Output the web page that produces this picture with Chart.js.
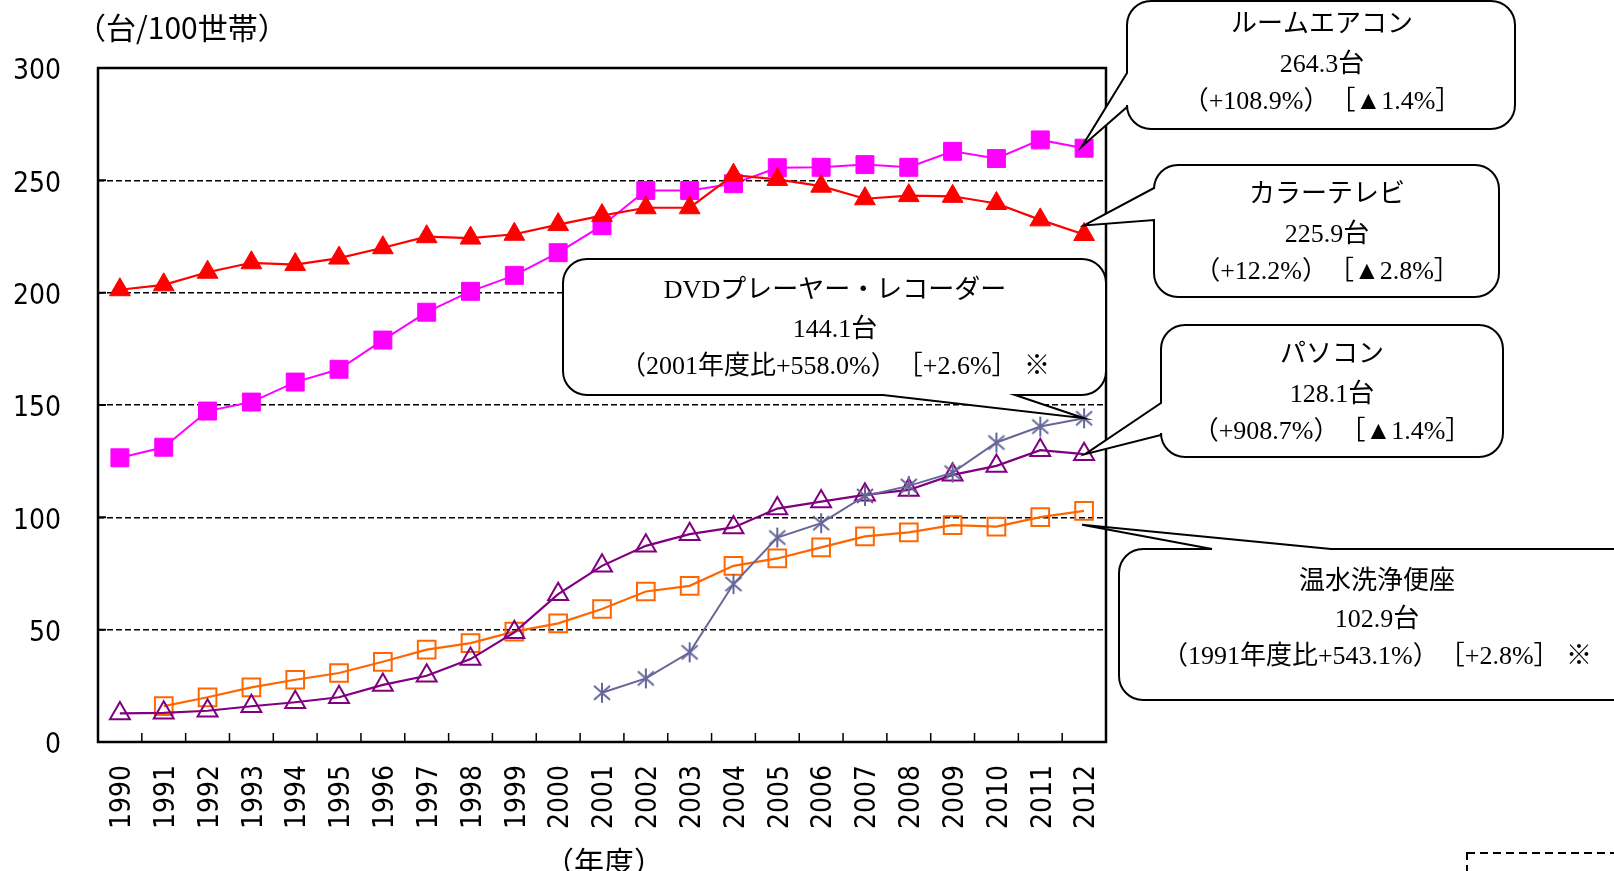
<!DOCTYPE html>
<html><head><meta charset="utf-8">
<script src="https://cdn.jsdelivr.net/npm/chart.js@4.4.0/dist/chart.umd.min.js"></script>
<style>html,body{margin:0;padding:0;background:#fff;overflow:hidden}#wrap{width:1614px;height:871px;position:relative}</style>
</head><body><div id="wrap"><canvas id="c" width="1614" height="871"></canvas></div>
<script>
const years = ['1990','1991','1992','1993','1994','1995','1996','1997','1998','1999','2000','2001','2002','2003','2004','2005','2006','2007','2008','2009','2010','2011','2012'];
const yTicks = [0, 50, 100, 150, 200, 250, 300];
const roomAircon = [126.5,131.2,147.3,151.3,160.2,165.9,178.9,191.3,200.6,207.7,217.8,229.8,245.5,245.5,248.5,255.6,255.8,257.0,255.8,262.9,259.7,268.0,264.3];
const colorTV = [201.3,203.5,209.1,213.3,212.5,215.4,220.0,224.9,224.3,226.0,230.3,234.3,237.8,237.8,252.3,250.4,247.4,241.8,243.2,242.9,239.7,232.4,225.9];
const personalComputer = [12.7,13.0,13.9,15.9,17.7,19.9,25.4,29.5,36.9,48.8,65.8,78.4,87.3,92.5,95.5,103.9,107.0,110.0,112.2,118.9,122.9,129.9,128.1];
const toiletSeat = [null,16.0,19.9,24.3,27.7,30.7,35.7,41.1,44.0,49.1,52.8,59.2,67.0,69.5,78.4,81.7,86.6,91.5,93.3,96.5,95.9,100.1,102.9];
const dvdRecorder = [null,null,null,null,null,null,null,null,null,null,null,21.9,28.3,39.9,70.3,91.0,97.4,109.5,114.0,119.9,133.3,140.4,144.1];

const yAxisTitle = '（台/100世帯）';
const xAxisTitle = '（年度）';

const calloutTexts = {
  aircon: ['ルームエアコン', '264.3台', '（+108.9%）　［▲1.4%］'],
  tv: ['カラーテレビ', '225.9台', '（+12.2%）　［▲2.8%］'],
  dvd: ['DVDプレーヤー・レコーダー', '144.1台', '（2001年度比+558.0%）　［+2.6%］ ※'],
  pc: ['パソコン', '128.1台', '（+908.7%）　［▲1.4%］'],
  toilet: ['温水洗浄便座', '102.9台', '（1991年度比+543.1%）　［+2.8%］ ※']
};

function makeAsterisk(color) {
  const c = document.createElement('canvas');
  c.width = 22; c.height = 22;
  const g = c.getContext('2d');
  g.strokeStyle = color; g.lineWidth = 2;
  g.beginPath();
  g.moveTo(11, 1); g.lineTo(11, 21);
  g.moveTo(3, 4); g.lineTo(19, 18);
  g.moveTo(19, 4); g.lineTo(3, 18);
  g.stroke();
  return c;
}

const tickFont = {family: "'DejaVu Sans Condensed','DejaVu Sans','Noto Sans CJK JP'", size: 28};
const calloutFont = "26px 'Liberation Serif','Noto Sans CJK JP'";

function calloutPath(ctx, b, tip) {
  const {x, y, w, h, r} = b;
  ctx.beginPath();
  ctx.moveTo(x + r, y);
  if (b.side === 'top') { ctx.lineTo(b.a, y); ctx.lineTo(tip.x, tip.y); ctx.lineTo(b.b, y); }
  ctx.lineTo(x + w - r, y);
  ctx.arcTo(x + w, y, x + w, y + r, r);
  ctx.lineTo(x + w, y + h - r);
  ctx.arcTo(x + w, y + h, x + w - r, y + h, r);
  if (b.side === 'bottom') { ctx.lineTo(b.b, y + h); ctx.lineTo(tip.x, tip.y); ctx.lineTo(b.a, y + h); }
  ctx.lineTo(x + r, y + h);
  ctx.arcTo(x, y + h, x, y + h - r, r);
  if (b.side === 'left') { ctx.lineTo(x, b.b); ctx.lineTo(tip.x, tip.y); ctx.lineTo(x, b.a); }
  ctx.lineTo(x, y + r);
  ctx.arcTo(x, y, x + r, y, r);
  ctx.closePath();
}

const callouts = [
  {key: 'aircon', ds: 1, x: 1127, y: 1, w: 388, h: 128, r: 24, side: 'left', a: 73, b: 107, dx: -2, dy: -2, cx: 1322, ys: [25, 65, 102]},
  {key: 'tv', ds: 0, x: 1154, y: 165, w: 345, h: 132, r: 24, side: 'left', a: 188, b: 220, dx: 0, dy: -9, cx: 1327, ys: [195, 235, 272]},
  {key: 'dvd', ds: 2, x: 563, y: 259, w: 543, h: 136, r: 24, side: 'bottom', a: 883, b: 1015, dx: 0, dy: 0, cx: 835, ys: [291, 330, 367]},
  {key: 'pc', ds: 3, x: 1161, y: 325, w: 342, h: 132, r: 24, side: 'left', a: 403, b: 435, dx: 1, dy: 0, cx: 1332, ys: [355, 395, 432]},
  {key: 'toilet', ds: 4, x: 1119, y: 549, w: 540, h: 151, r: 24, side: 'top', a: 1212, b: 1331, dx: -2, dy: 14, cx: 1377, ys: [582, 620, 657]}
];

const decor = {
  id: 'decor',
  afterDraw(chart) {
    const ctx = chart.ctx, a = chart.chartArea;
    const xs = chart.scales.x, ys = chart.scales.y;
    ctx.save();
    ctx.strokeStyle = '#000'; ctx.lineWidth = 1.5; ctx.setLineDash([]);
    ctx.beginPath();
    for (let i = 1; i < years.length; i++) {
      const bx = (xs.getPixelForValue(i - 1) + xs.getPixelForValue(i)) / 2;
      ctx.moveTo(bx, a.bottom); ctx.lineTo(bx, a.bottom - 9);
    }
    ctx.stroke();
    ctx.lineWidth = 2;
    ctx.beginPath();
    yTicks.forEach(v => { const py = ys.getPixelForValue(v); ctx.moveTo(a.left, py); ctx.lineTo(a.left + 8, py); });
    ctx.stroke();
    ctx.lineWidth = 2.5;
    ctx.strokeRect(a.left, a.top, a.right - a.left, a.bottom - a.top);
    callouts.forEach(b => {
      const data = chart.data.datasets[b.ds].data;
      const last = data.length - 1;
      const tip = {x: xs.getPixelForValue(last) + b.dx, y: ys.getPixelForValue(data[last]) + b.dy};
      calloutPath(ctx, b, tip);
      ctx.fillStyle = '#fff'; ctx.fill();
      ctx.strokeStyle = '#000'; ctx.lineWidth = 2; ctx.lineJoin = 'miter'; ctx.stroke();
      ctx.fillStyle = '#000'; ctx.font = calloutFont; ctx.textAlign = 'center'; ctx.textBaseline = 'middle';
      calloutTexts[b.key].forEach((t, i) => ctx.fillText(t, b.cx, b.ys[i]));
    });
    ctx.fillStyle = '#000';
    ctx.font = "30px 'Noto Sans CJK JP'";
    ctx.textAlign = 'left'; ctx.textBaseline = 'middle';
    ctx.fillText(yAxisTitle, 76, 28);
    ctx.textAlign = 'center';
    ctx.fillText(xAxisTitle, (a.left + a.right) / 2 + 2, 862);
    ctx.setLineDash([8, 5]); ctx.lineWidth = 2;
    ctx.strokeRect(1467, 853, 300, 100);
    ctx.restore();
  }
};

const asterisk = makeAsterisk('#666699');

new Chart(document.getElementById('c').getContext('2d'), {
  type: 'line',
  data: {
    labels: years,
    datasets: [
      {label: 'カラーテレビ', data: colorTV, borderColor: '#FF0000', backgroundColor: '#FF0000', borderWidth: 2.2,
       pointStyle: 'triangle', pointRadius: 12, pointBackgroundColor: '#FF0000', pointBorderColor: '#FF0000', pointBorderWidth: 1, tension: 0},
      {label: 'ルームエアコン', data: roomAircon, borderColor: '#FF00FF', backgroundColor: '#FF00FF', borderWidth: 2,
       pointStyle: 'rect', pointRadius: 12.7, pointBackgroundColor: '#FF00FF', pointBorderColor: '#FF00FF', pointBorderWidth: 1, tension: 0},
      {label: 'DVDプレーヤー・レコーダー', data: dvdRecorder, borderColor: '#666699', backgroundColor: '#666699', borderWidth: 2,
       pointStyle: asterisk, pointRadius: 11, tension: 0},
      {label: 'パソコン', data: personalComputer, borderColor: '#800080', backgroundColor: '#800080', borderWidth: 2.2,
       pointStyle: 'triangle', pointRadius: 11.5, pointBackgroundColor: 'rgba(0,0,0,0)', pointBorderColor: '#800080', pointBorderWidth: 2, tension: 0},
      {label: '温水洗浄便座', data: toiletSeat, borderColor: '#FF6600', backgroundColor: '#FF6600', borderWidth: 2.2,
       pointStyle: 'rect', pointRadius: 12.5, pointBackgroundColor: 'rgba(0,0,0,0)', pointBorderColor: '#FF6600', pointBorderWidth: 2, tension: 0}
    ]
  },
  options: {
    responsive: false, animation: false, devicePixelRatio: 1,
    layout: {padding: {left: 0, right: 508, top: 68, bottom: 0}},
    plugins: {legend: {display: false}, tooltip: {enabled: false}},
    scales: {
      x: {
        offset: true,
        grid: {display: false, drawTicks: false},
        border: {display: false},
        ticks: {minRotation: 90, maxRotation: 90, autoSkip: false, padding: 23, labelOffset: 3, color: '#000', font: tickFont},
        afterFit(s) { s.height = 129; }
      },
      y: {
        min: 0, max: 300,
        afterBuildTicks(s) { s.ticks = yTicks.map(v => ({value: v})); },
        grid: {color: '#000', lineWidth: 1.5, drawTicks: false},
        border: {display: false, dash: [6, 3]},
        ticks: {padding: 37, labelOffset: 4, color: '#000', font: tickFont},
        afterFit(s) { s.width = 98; }
      }
    }
  },
  plugins: [decor]
});
</script>
</body></html>
